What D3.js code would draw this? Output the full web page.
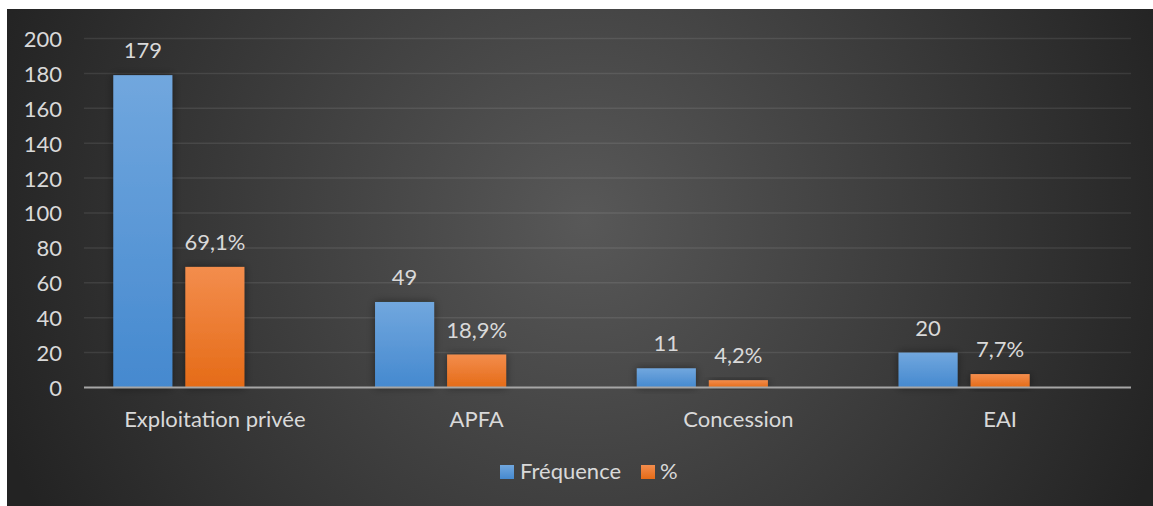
<!DOCTYPE html>
<html>
<head>
<meta charset="utf-8">
<script src="https://cdn.jsdelivr.net/npm/d3@7"></script>
<style>
  html, body { margin: 0; padding: 0; background: #ffffff; }
  svg { display: block; }
  text { font-family: Lato, "Open Sans", sans-serif; fill: #d9d9d9; }
</style>
</head>
<body>
<script>
// Mode d'exploitation: effectifs et pourcentages
const categories = ["Exploitation privée", "APFA", "Concession", "EAI"];
const frequence = [179, 49, 11, 20];
const pourcentage = [69.1, 18.9, 4.2, 7.7];
const seriesNames = ["Fréquence", "%"];
const yTicks = [0, 20, 40, 60, 80, 100, 120, 140, 160, 180, 200];

const W = 1153, H = 506;
const FS = "22px";
const svg = d3.select("body").append("svg").attr("width", W).attr("height", H);
const defs = svg.append("defs");

// dark panel with a lighter centre
const bg = defs.append("radialGradient").attr("id", "bg")
  .attr("gradientUnits", "userSpaceOnUse")
  .attr("cx", 585).attr("cy", 220).attr("r", 620);
bg.append("stop").attr("offset", "0%").attr("stop-color", "#585858");
bg.append("stop").attr("offset", "100%").attr("stop-color", "#232323");

const gBlue = defs.append("linearGradient").attr("id", "gBlue").attr("x1", 0).attr("y1", 0).attr("x2", 0).attr("y2", 1);
gBlue.append("stop").attr("offset", "0%").attr("stop-color", "#71a7de");
gBlue.append("stop").attr("offset", "100%").attr("stop-color", "#4589cf");
const gOrange = defs.append("linearGradient").attr("id", "gOrange").attr("x1", 0).attr("y1", 0).attr("x2", 0).attr("y2", 1);
gOrange.append("stop").attr("offset", "0%").attr("stop-color", "#f38d4d");
gOrange.append("stop").attr("offset", "100%").attr("stop-color", "#e56b17");

const shadow = defs.append("filter").attr("id", "shadow").attr("x", "-30%").attr("y", "-30%").attr("width", "160%").attr("height", "160%");
shadow.append("feDropShadow").attr("dx", 0).attr("dy", 0).attr("stdDeviation", 4)
  .attr("flood-color", "#000").attr("flood-opacity", 0.45);

svg.append("rect").attr("x", 7).attr("y", 9).attr("width", W - 7).attr("height", H - 9).attr("fill", "url(#bg)");

const plotLeft = 84, plotRight = 1131;
const y = d3.scaleLinear().domain([0, 200]).range([387.5, 38.5]);
const x = d3.scaleBand().domain(categories).range([plotLeft, plotRight]).paddingInner(0).paddingOuter(0);
// three slots per category (third one left empty), as in a clustered layout
const slot = d3.scaleBand().domain([0, 1, 2]).range([29.3, x.bandwidth() - 29.3]).paddingInner(0.18);

// gridlines
svg.append("g").selectAll("line").data(yTicks.filter(d => d !== 0)).join("line")
  .attr("x1", plotLeft).attr("x2", plotRight)
  .attr("y1", d => y(d)).attr("y2", d => y(d))
  .attr("stroke", "rgba(255,255,255,0.09)").attr("stroke-width", 1.5);

// y axis labels
const yAxis = d3.axisLeft(y).tickValues(yTicks).tickSize(0).tickPadding(0);
const ya = svg.append("g").attr("transform", "translate(62,0)").call(yAxis);
ya.select(".domain").remove();
ya.selectAll("text").attr("fill", "#d9d9d9").style("font-size", FS)
  .style("font-family", "Lato, sans-serif").attr("dy", "0.36em");

// bars
const series = [
  { values: frequence, fill: "url(#gBlue)", label: d => String(d) },
  { values: pourcentage, fill: "url(#gOrange)", label: d => d.toFixed(1).replace(".", ",") + "%" }
];
series.forEach((s, i) => {
  const g = svg.append("g");
  g.selectAll("rect").data(categories).join("rect")
    .attr("x", c => x(c) + slot(i))
    .attr("width", slot.bandwidth())
    .attr("y", (c, k) => y(s.values[k]))
    .attr("height", (c, k) => y(0) - y(s.values[k]))
    .attr("fill", s.fill)
    .attr("filter", "url(#shadow)");
  g.selectAll("text").data(categories).join("text")
    .attr("x", c => x(c) + slot(i) + slot.bandwidth() / 2)
    .attr("y", (c, k) => y(s.values[k]) - 17)
    .attr("text-anchor", "middle")
    .style("font-size", FS)
    .text((c, k) => s.label(s.values[k]));
});

// baseline
svg.append("line").attr("x1", plotLeft).attr("x2", plotRight)
  .attr("y1", y(0)).attr("y2", y(0))
  .attr("stroke", "#a6a6a6").attr("stroke-width", 2);

// category labels
const xAxis = d3.axisBottom(x).tickSize(0).tickPadding(0);
const xa = svg.append("g").attr("transform", "translate(0,427)").call(xAxis);
xa.select(".domain").remove();
xa.selectAll("text").attr("fill", "#d9d9d9").style("font-size", FS)
  .style("font-family", "Lato, sans-serif").attr("dy", 0);

// legend
const legend = svg.append("g");
const legendItems = [
  { name: seriesNames[0], fill: "url(#gBlue)", x: 500, tx: 520 },
  { name: seriesNames[1], fill: "url(#gOrange)", x: 641, tx: 660 }
];
legendItems.forEach(it => {
  legend.append("rect").attr("x", it.x).attr("y", 465).attr("width", 14).attr("height", 14).attr("fill", it.fill);
  legend.append("text").attr("x", it.tx).attr("y", 479).style("font-size", FS).text(it.name);
});
</script>
</body>
</html>
